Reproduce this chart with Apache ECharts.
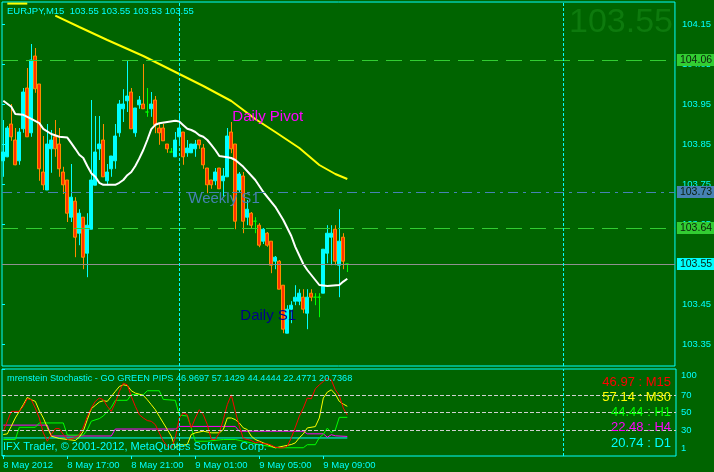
<!DOCTYPE html>
<html><head><meta charset="utf-8">
<script src="https://cdn.jsdelivr.net/npm/echarts@6/dist/echarts.min.js"></script>
<style>html,body{margin:0;padding:0;background:#006400;}#c{width:714px;height:472px;}</style>
</head><body><div id="c"></div>
<script>
const FONT = 'Liberation Sans';
const symbolTitle = 'EURJPY,M15  103.55 103.55 103.53 103.55';
const stochTitle = 'mrenstein Stochastic - GO GREEN PIPS 46.9697 57.1429 44.4444 22.4771 20.7368';
const copyright = 'IFX Trader, \u00A9 2001-2012, MetaQuotes Software Corp.';
const bigPrice = '103.55';

// candles (bar 0 = 2012.05.08 13:00, M15)
const opens  = [103.808,103.818,103.900,103.860,103.808,103.888,103.990,103.878,104.070,104.000,103.780,103.735,103.838,103.868,103.850,103.780,103.760,103.667,103.707,103.627,103.667,103.577,103.637,103.747,103.838,103.860,103.758,103.788,103.808,103.878,103.938,103.958,103.980,103.878,103.948,103.950,103.930,103.938,103.960,103.890,103.890,103.850,103.830,103.818,103.868,103.880,103.828,103.828,103.838,103.860,103.840,103.790,103.760,103.758,103.790,103.758,103.768,103.880,103.850,103.735,103.770,103.667,103.677,103.657,103.647,103.607,103.627,103.607,103.557,103.557,103.497,103.377,103.437,103.457,103.457,103.467,103.427,103.477,103.467,103.467,103.477,103.577,103.617,103.637,103.547,103.617,103.550];
const closes = [103.830,103.890,103.868,103.798,103.880,103.980,103.868,104.060,103.988,103.788,103.748,103.850,103.860,103.838,103.788,103.748,103.677,103.717,103.617,103.677,103.567,103.647,103.760,103.830,103.850,103.768,103.780,103.820,103.870,103.950,103.950,103.970,103.888,103.940,103.960,103.938,103.930,103.950,103.898,103.878,103.858,103.838,103.830,103.860,103.890,103.818,103.840,103.850,103.850,103.848,103.798,103.748,103.748,103.780,103.738,103.770,103.870,103.838,103.657,103.775,103.657,103.687,103.647,103.657,103.597,103.637,103.597,103.547,103.567,103.487,103.387,103.437,103.447,103.467,103.477,103.437,103.467,103.467,103.467,103.467,103.587,103.627,103.627,103.557,103.607,103.557,103.550];
const lows   = [103.768,103.817,103.858,103.797,103.798,103.878,103.868,103.868,103.978,103.758,103.735,103.735,103.778,103.818,103.768,103.725,103.655,103.655,103.567,103.597,103.537,103.517,103.637,103.747,103.810,103.768,103.747,103.768,103.788,103.868,103.905,103.930,103.888,103.868,103.938,103.938,103.918,103.918,103.877,103.848,103.858,103.828,103.830,103.818,103.848,103.798,103.818,103.828,103.818,103.838,103.788,103.727,103.738,103.747,103.738,103.718,103.768,103.827,103.637,103.728,103.627,103.647,103.640,103.627,103.592,103.600,103.593,103.527,103.537,103.487,103.377,103.377,103.402,103.447,103.447,103.427,103.387,103.457,103.447,103.417,103.477,103.552,103.547,103.547,103.467,103.537,103.530];
const highs  = [103.910,103.895,103.950,103.890,103.890,103.990,104.040,104.100,104.090,104.000,103.870,103.900,103.885,103.910,103.890,103.793,103.760,103.800,103.717,103.687,103.667,103.677,103.960,103.920,103.920,103.900,103.800,103.820,103.900,103.960,103.987,104.060,103.990,103.940,103.970,104.050,103.990,103.980,103.970,103.900,103.900,103.850,103.840,103.880,103.920,103.880,103.860,103.850,103.860,103.860,103.850,103.790,103.760,103.790,103.790,103.790,103.890,103.905,103.850,103.780,103.780,103.710,103.680,103.667,103.652,103.640,103.630,103.607,103.570,103.560,103.497,103.447,103.457,103.497,103.487,103.487,103.487,103.487,103.477,103.477,103.587,103.647,103.647,103.647,103.687,103.627,103.550];

// moving averages: [bar, price]
const maSlow = [[13,104.171],[19,104.1425],[26,104.11],[35,104.07],[43,104.03],[50,103.995],[57,103.9575],[63,103.9125],[68,103.88],[74,103.84],[79,103.7975],[83,103.775],[86,103.7625]];
const maSlowTop = [[1,104.201],[6,104.201]];
const maFast = [[0,103.958],[2,103.943],[3,103.925],[5,103.923],[7,103.913],[9,103.902],[10,103.888],[12,103.875],[14,103.868],[16,103.866],[17,103.852],[18,103.838],[19,103.823],[20,103.815],[21,103.795],[22,103.777],[23,103.768],[24,103.753],[25,103.748],[28,103.748],[29,103.753],[30,103.76],[31,103.772],[32,103.78],[33,103.795],[34,103.814],[35,103.835],[36,103.86],[37,103.887],[38,103.898],[39,103.902],[41,103.905],[43,103.908],[44,103.906],[45,103.897],[46,103.888],[47,103.885],[48,103.88],[49,103.872],[50,103.868],[51,103.86],[52,103.848],[53,103.835],[54,103.82],[56,103.817],[57,103.815],[58,103.81],[60,103.793],[63,103.76],[65,103.73],[68,103.693],[70,103.66],[72,103.62],[73,103.593],[75,103.55],[76,103.535],[78,103.51],[79,103.4975],[81,103.495],[84,103.4975],[85,103.506],[86,103.513]];

// horizontal levels
const levelPivotLines = [104.06, 103.64];
const levelWeekly = 103.73;
const levelBid = 103.55;

// chart text objects [bar, price]
const txtDailyPivot = [57, 103.9175];
const txtWeeklyS1 = [46, 103.713];
const txtDailyS1 = [59, 103.421];

// stochastic: [bar, value]
const m15 = [[0,28.5],[1,39.9],[2,51.3],[4,51.3],[5,57.1],[6,65.8],[7,64.7],[8,55.1],[9,43.7],[10,26.6],[11,17.0],[12,24.7],[13,31.5],[14,31.5],[15,24.7],[16,19.0],[18,20.9],[19,24.7],[20,33.0],[21,45.6],[22,55.1],[23,62.8],[24,66.6],[25,64.7],[26,57.1],[27,51.3],[28,60.9],[29,74.2],[30,83.7],[31,81.8],[32,68.5],[33,57.1],[34,47.5],[35,43.7],[36,40.7],[37,39.9],[38,36.1],[39,26.6],[40,17.0],[41,11.3],[42,9.4],[43,20.9],[44,43.7],[45,49.4],[46,47.5],[47,32.3],[48,43.7],[49,53.2],[50,47.5],[51,36.1],[52,19.0],[53,19.0],[54,26.6],[55,41.8],[56,59.0],[57,70.4],[58,51.3],[59,34.2],[60,20.1],[61,19.0],[62,17.8],[63,15.1],[64,16.3],[65,14.0],[66,14.0],[67,12.5],[68,10.2],[69,9.4],[70,9.4],[71,11.3],[72,20.9],[73,33.0],[74,45.6],[75,55.1],[76,66.6],[77,65.8],[78,77.2],[79,81.8],[80,85.6],[81,89.4],[82,87.5],[83,76.1],[84,69.6],[85,55.1],[86,46.97]];
const m30 = [[0,24.7],[1,25.4],[2,34.2],[3,43.7],[4,51.3],[5,59.0],[6,67.3],[7,64.7],[8,62.8],[9,52.1],[10,43.7],[11,33.0],[12,22.8],[14,20.1],[16,19.0],[18,17.8],[19,21.6],[20,28.5],[21,41.8],[22,54.4],[23,58.2],[24,62.0],[25,63.5],[26,62.8],[27,68.5],[28,74.2],[29,79.9],[30,81.8],[31,81.0],[32,75.0],[33,72.3],[34,71.1],[35,69.6],[36,64.7],[37,59.0],[38,53.2],[39,45.6],[40,38.0],[41,30.4],[42,22.8],[43,9.4],[44,13.2],[45,12.5],[46,13.2],[47,24.7],[48,26.6],[50,28.5],[52,26.6],[54,26.6],[55,30.4],[56,43.7],[57,43.7],[58,41.8],[59,38.0],[60,32.3],[61,30.4],[62,22.8],[63,19.0],[65,15.1],[67,11.3],[68,9.4],[70,11.3],[72,13.2],[73,15.1],[74,20.9],[75,25.4],[76,32.3],[78,33.8],[79,43.7],[80,66.6],[81,73.4],[82,76.1],[83,71.1],[84,62.8],[85,59.7],[86,57.14]];
const h1 = [[0,19],[3,19],[4,33],[8,33],[9,38],[15,38],[16,24],[20,24],[21,30],[22,40],[24,43],[25,46],[26,51],[27,56],[28,64],[31,64],[32,70.5],[35,70.5],[36,75],[39,75],[40,65],[43,64],[44,47],[46,46],[47,32],[48,17],[51,17],[55,19],[58,19],[60,17],[62,15],[64,13],[66,11.5],[68,9.5],[75,9.5],[76,13],[78,13],[79,21],[80,25],[81,32],[82,27],[83,30],[84,44.44],[86,44.44]];
const h4 = [[0,35.5],[11,35.5],[12,23],[27,23],[28,31],[43,31],[44,34],[58,34],[59,28.5],[75,28.5],[76,25.5],[80,25.5],[81,21.5],[82,24.5],[83,23.2],[86,22.48]];
const d1 = [[0,20.74],[86,20.74]];
const stochLevels = [70, 50, 30];

// axes
const yTicks = [103.35,103.45,103.55,103.65,103.75,103.85,103.95,104.05,104.15];
const subTicks = [1,30,50,70,100];
const tickTimes = ['2012.05.08 13:00','2012.05.08 17:00','2012.05.08 21:00','2012.05.09 01:00','2012.05.09 05:00','2012.05.09 09:00'];
const tickLabels = ['8 May 2012','8 May 17:00','8 May 21:00','9 May 01:00','9 May 05:00','9 May 09:00'];
const separatorTimes = ['2012.05.09 00:00','2012.05.10 00:00'];

const PMIN = 103.295, PMAX = 104.205;
const NBARS = 168;
const pad = n => String(n).padStart(2,'0');
const cats = [];
const t0 = Date.UTC(2012,4,8,13,0);
for (let i=0;i<NBARS;i++){const d=new Date(t0+i*900000);cats.push(`${d.getUTCFullYear()}.${pad(d.getUTCMonth()+1)}.${pad(d.getUTCDate())} ${pad(d.getUTCHours())}:${pad(d.getUTCMinutes())}`);}
const candleData = opens.map((o,i)=>[o,closes[i],lows[i],highs[i]]);
const last = a => a[a.length-1][1];

const CYAN='#00FFFF', BG='#006400', LIME='#32CD32', STEEL='#4682B4', GRAY='#909090';
const tickShow = (i) => tickTimes.includes(cats[i]);

const boxLabel = (bg) => ({show:true, position:'end', distance:2, formatter:p=>Number(p.value).toFixed(2), backgroundColor:bg, color:'#0b1f0b', padding:[1,4,0,3], fontSize:10.5, fontFamily:FONT});

const sepLines = {silent:true, symbol:['none','none'], label:{show:false}, lineStyle:{color:CYAN, type:[3,2], width:1}, data: separatorTimes.map(t=>({xAxis:t}))};

const chart = echarts.init(document.getElementById('c'));
chart.setOption({
  animation:false,
  backgroundColor:BG,
  textStyle:{fontFamily:FONT},
  grid:[
    {left:2, top:2, width:674, height:364, show:true, borderColor:CYAN, borderWidth:1, backgroundColor:'transparent'},
    {left:1.3, top:2, width:672, height:364},
    {left:2, top:369, width:674, height:87, show:true, borderColor:CYAN, borderWidth:1, backgroundColor:'transparent'},
    {left:1.3, top:369, width:672, height:87}
  ],
  xAxis:[
    {gridIndex:0, type:'value', min:0, max:1, show:false},
    {gridIndex:1, type:'category', data:cats, show:false},
    {gridIndex:2, type:'value', min:0, max:1, show:false},
    {gridIndex:3, type:'category', data:cats, axisLine:{show:false},
      axisTick:{show:true, interval:tickShow, alignWithLabel:true, length:3, lineStyle:{color:CYAN}},
      axisLabel:{interval:tickShow, formatter:v=>tickLabels[tickTimes.indexOf(v)], align:'left', color:CYAN, fontSize:9.5, margin:4, fontFamily:FONT},
      splitLine:{show:false}}
  ],
  yAxis:[
    {gridIndex:0, type:'value', min:PMIN, max:PMAX, position:'right', splitLine:{show:false}, axisLine:{show:false},
      axisTick:{show:true, length:3, customValues:yTicks, lineStyle:{color:CYAN}},
      axisLabel:{customValues:yTicks, formatter:v=>v.toFixed(2), color:CYAN, fontSize:9.5, margin:7, fontFamily:FONT}},
    {gridIndex:1, type:'value', min:PMIN, max:PMAX, show:false},
    {gridIndex:2, type:'value', min:0, max:100, position:'right', splitLine:{show:false}, axisLine:{show:false},
      axisTick:{show:true, length:3, customValues:subTicks, lineStyle:{color:CYAN}},
      axisLabel:{customValues:subTicks, color:CYAN, fontSize:9.5, margin:5, fontFamily:FONT,
        formatter:v=> v===100 ? '{t|100}' : (v===1 ? '{b|1}' : '{m|'+v+'}'),
        rich:{t:{padding:[13,0,0,0],color:CYAN,fontSize:9.5,fontFamily:FONT},b:{padding:[0,0,13,0],color:CYAN,fontSize:9.5,fontFamily:FONT},m:{color:CYAN,fontSize:9.5,fontFamily:FONT}}}},
    {gridIndex:3, type:'value', min:0, max:100, show:false}
  ],
  series:[
    {type:'line', xAxisIndex:0, yAxisIndex:0, data:[], silent:true, z:1,
      markLine:{silent:true, symbol:['none','none'], animation:false, lineStyle:{opacity:1}, emphasis:{disabled:true}, data:[
        ...levelPivotLines.map(v=>({yAxis:v, lineStyle:{color:LIME, type:[16,8], width:1}, label:boxLabel(LIME)})),
        {yAxis:levelWeekly, lineStyle:{color:STEEL, type:[10,5,3,5], width:1}, label:boxLabel(STEEL)},
        {yAxis:levelBid, lineStyle:{color:GRAY, type:'solid', width:1}, label:boxLabel(CYAN)}
      ]}},
    {type:'line', xAxisIndex:1, yAxisIndex:1, data:[], silent:true, z:1,
      markPoint:{silent:true, symbol:'circle', symbolSize:0, animation:false, data:[
        {name:'Daily Pivot', coord:txtDailyPivot, label:{color:'#FF00FF'}},
        {name:'Weekly S1', coord:txtWeeklyS1, label:{color:STEEL}},
        {name:'Daily S1', coord:txtDailyS1, label:{color:'#00008B'}}
      ], label:{show:true, position:'right', distance:1, formatter:'{b}', fontSize:15, fontFamily:FONT}}},
    {type:'candlestick', xAxisIndex:1, yAxisIndex:1, data:candleData, barWidth:3.2, z:2, silent:true,
      itemStyle:{color:CYAN, borderColor:CYAN, color0:'#FF3000', borderColor0:'#FF8C00', borderColorDoji:'#00FF00', borderWidth:1},
      markLine:sepLines},
    {type:'line', xAxisIndex:1, yAxisIndex:1, data:maSlow, showSymbol:false, smooth:false, z:3, lineStyle:{color:'#FFFF00', width:2}, silent:true},
    {type:'line', xAxisIndex:1, yAxisIndex:1, data:maSlowTop, showSymbol:false, z:3, lineStyle:{color:'#FFFF00', width:2}, silent:true},
    {type:'line', xAxisIndex:1, yAxisIndex:1, data:maFast, showSymbol:false, z:3, lineStyle:{color:'#FFFFFF', width:2}, silent:true},
    {type:'line', xAxisIndex:2, yAxisIndex:2, data:[], silent:true, z:1,
      markLine:{silent:true, symbol:['none','none'], animation:false, label:{show:false},
        lineStyle:{color:'#D0D0D0', type:[4,2], width:1}, data:stochLevels.map(v=>({yAxis:v}))}},
    {type:'line', xAxisIndex:3, yAxisIndex:3, data:d1, showSymbol:false, z:2, lineStyle:{color:CYAN, width:1}, silent:true, markLine:sepLines},
    {type:'line', xAxisIndex:3, yAxisIndex:3, data:h4, showSymbol:false, z:3, lineStyle:{color:'#FF00FF', width:1}, silent:true},
    {type:'line', xAxisIndex:3, yAxisIndex:3, data:h1, showSymbol:false, z:3, lineStyle:{color:'#00FF00', width:1}, silent:true},
    {type:'line', xAxisIndex:3, yAxisIndex:3, data:m30, showSymbol:false, z:3, lineStyle:{color:'#FFFF00', width:1}, silent:true},
    {type:'line', xAxisIndex:3, yAxisIndex:3, data:m15, showSymbol:false, z:3, lineStyle:{color:'#FF0000', width:1}, silent:true}
  ],
  graphic:[
    {type:'text', x:7, y:11, z:10, style:{text:symbolTitle, fill:CYAN, font:'9.5px "Liberation Sans"', textVerticalAlign:'middle'}},
    {type:'text', x:673, y:22.5, z:0, style:{text:bigPrice, fill:'#0d7a0d', font:'34px "Liberation Sans"', textAlign:'right', textVerticalAlign:'middle'}},
    {type:'text', x:7, y:378.5, z:10, style:{text:stochTitle, fill:CYAN, font:'9.2px "Liberation Sans"', textVerticalAlign:'middle'}},
    {type:'text', x:3, y:446.5, z:10, style:{text:copyright, fill:CYAN, font:'11px "Liberation Sans"', textVerticalAlign:'middle'}},
    {type:'text', x:671, y:382.5, z:10, style:{text:last(m15).toFixed(2)+' : M15', fill:'#FF0000', font:'13px "Liberation Sans"', textAlign:'right', textVerticalAlign:'middle'}},
    {type:'text', x:671, y:397.5, z:10, style:{text:last(m30).toFixed(2)+' : M30', fill:'#FFFF00', font:'13px "Liberation Sans"', textAlign:'right', textVerticalAlign:'middle'}},
    {type:'text', x:671, y:412.5, z:10, style:{text:last(h1).toFixed(2)+' : H1', fill:'#00FF00', font:'13px "Liberation Sans"', textAlign:'right', textVerticalAlign:'middle'}},
    {type:'text', x:671, y:427.5, z:10, style:{text:last(h4).toFixed(2)+' : H4', fill:'#FF00FF', font:'13px "Liberation Sans"', textAlign:'right', textVerticalAlign:'middle'}},
    {type:'text', x:671, y:443, z:10, style:{text:last(d1).toFixed(2)+' : D1', fill:CYAN, font:'13px "Liberation Sans"', textAlign:'right', textVerticalAlign:'middle'}}
  ]
});
</script></body></html>
